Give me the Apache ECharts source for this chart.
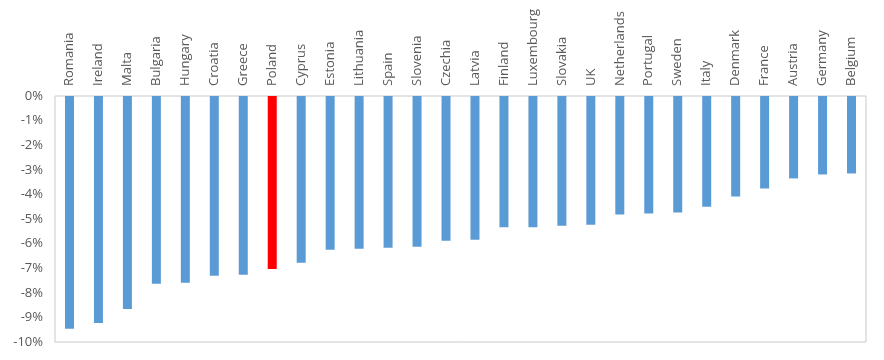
<!DOCTYPE html>
<html><head><meta charset="utf-8">
<script src="https://cdn.jsdelivr.net/npm/echarts@6/dist/echarts.min.js"></script>
<style>html,body{margin:0;padding:0;background:#fff}#c{width:884px;height:360px}</style>
</head><body><div id="c"></div>
<script>
const countries = ["Romania","Ireland","Malta","Bulgaria","Hungary","Croatia","Greece","Poland","Cyprus","Estonia","Lithuania","Spain","Slovenia","Czechia","Latvia","Finland","Luxembourg","Slovakia","UK","Netherlands","Portugal","Sweden","Italy","Denmark","France","Austria","Germany","Belgium"];
const values = [-9.46,-9.23,-8.66,-7.63,-7.59,-7.31,-7.27,-7.03,-6.78,-6.25,-6.21,-6.17,-6.13,-5.88,-5.84,-5.34,-5.34,-5.27,-5.23,-4.82,-4.78,-4.74,-4.50,-4.09,-3.76,-3.35,-3.19,-3.15];
const highlight = "Poland";
const yTicks = {min:-10, max:0, step:1};

const chart = echarts.init(document.getElementById('c'));
const font = "Open Sans";
chart.setOption({
  animation:false,
  grid:{left:55,right:18,top:96,bottom:18,show:true,borderColor:'#c9c9c9',borderWidth:1},
  xAxis:{type:'category',data:countries,position:'top',
    axisLine:{show:false},axisTick:{show:false},
    axisLabel:{rotate:90,interval:0,color:'#595959',fontSize:13,fontFamily:font,margin:10}},
  yAxis:{type:'value',min:yTicks.min,max:yTicks.max,interval:yTicks.step,
    axisLine:{show:false},axisTick:{show:false},splitLine:{show:false},
    axisLabel:{formatter:'{value}%',color:'#595959',fontSize:13,fontFamily:font,margin:12}},
  series:[{type:'bar',barWidth:9,
    data:values.map((v,i)=>({value:v,itemStyle:{color:countries[i]===highlight?'#ff0000':'#5b9bd5'}}))}]
});
</script></body></html>
